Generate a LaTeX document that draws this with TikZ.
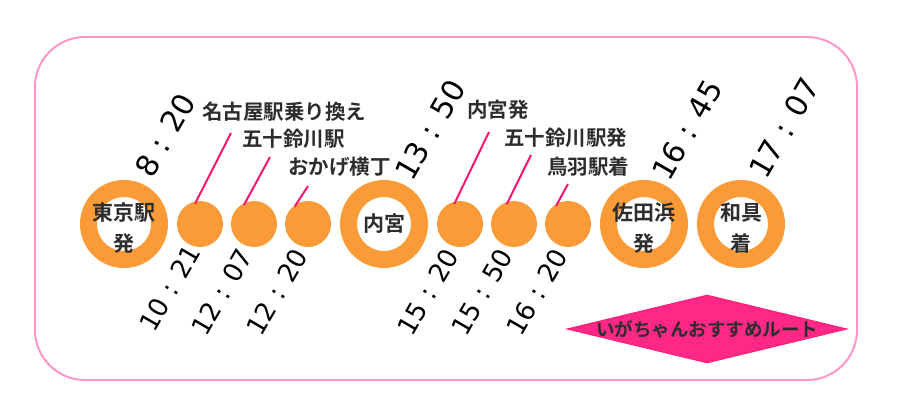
\documentclass[tikz,border=0pt]{standalone}
\usepackage{fontspec}
\usepackage{tikz}
\usetikzlibrary{shapes.geometric,positioning,calc}
\newfontfamily\jpfont{Noto Sans CJK JP}[BoldFont={Noto Sans CJK JP Bold}]
\newfontfamily\numfont{DejaVu Sans}
\definecolor{routeorange}{RGB}{250,155,55}
\definecolor{routepink}{RGB}{255,40,135}
\definecolor{tickpink}{RGB}{250,20,110}
\definecolor{framepink}{RGB}{255,150,200}
\definecolor{labelgray}{RGB}{45,45,45}
\tikzset{
    bigring/.style={circle, draw=routeorange, line width=17pt, minimum size=71pt, inner sep=0pt},
    stopdot/.style={circle, fill=routeorange, minimum size=46pt, inner sep=0pt},
    stn/.style={font=\jpfont\bfseries\fontsize{21}{31}\selectfont, text=labelgray, align=center, inner sep=0pt},
    place/.style={font=\jpfont\bfseries\fontsize{20.5}{24}\selectfont, text=labelgray, anchor=west, inner sep=0pt},
    tupper/.style={font=\numfont\fontsize{30}{30}\selectfont, rotate=60, inner sep=0pt},
    tlower/.style={font=\numfont\fontsize{26}{26}\selectfont, rotate=60, inner sep=0pt},
    tick/.style={tickpink, line width=2pt, shorten <=-3pt},
    routebox/.style={diamond, fill=routepink, draw=routepink!85!red, line width=1pt, minimum width=280pt, minimum height=68pt, inner sep=0pt},
    routetext/.style={font=\jpfont\bfseries\fontsize{18.5}{20}\selectfont, text=labelgray, inner sep=0pt},
    framebox/.style={draw=framepink, line width=2pt, rounded corners=50pt},
}
\begin{document}
\begin{tikzpicture}[x=1pt, y=-1pt]
    \useasboundingbox (0,0) rectangle (913,404);
    \draw[framebox] (35,37) rectangle (857,380);

    % Tokyo to Naiku
    \node[bigring] (r1) at (124,224) {};
    \node[stn] (s1) at ([yshift=-4pt]r1) {東京駅\\発};
    \node[stopdot] (d1) at (200,224) {};
    \node[stopdot] (d2) at (254,224) {};
    \node[stopdot] (d3) at (308,224) {};
    \node[bigring] (r2) at (384,224) {};
    \node[stn] (s2) at (r2) {内宮};

    \node[place] (p1) at (202,112) {名古屋駅乗り換え};
    \node[place] (p2) at (242,139) {五十鈴川駅};
    \node[place] (p3) at (288,167) {おかげ横丁};
    \coordinate (t1) at (231,133);
    \coordinate (t2) at (270,157);
    \coordinate (t3) at (308,186);
    \draw[tick] (d1.99) -- (t1);
    \draw[tick] (d2.112) -- (t2);
    \draw[tick] (d3.120) -- (t3);

    \node[tupper] (u1) at (165,135) {8 : 20};
    \node[tlower] (w1) at (170,288) {10 : 21};
    \node[tlower] (w2) at (222,292) {12 : 07};
    \node[tlower] (w3) at (277,292) {12 : 20};

    % Naiku to Wagu
    \node[stopdot] (d4) at (460,224) {};
    \node[stopdot] (d5) at (514,224) {};
    \node[stopdot] (d6) at (568,224) {};
    \node[bigring] (r3) at (644,224) {};
    \node[stn] (s3) at ([yshift=-4pt]r3) {佐田浜\\発};
    \node[bigring] (r4) at (741,224) {};
    \node[stn] (s4) at ([yshift=-4pt]r4) {和具\\着};

    \node[place] (p4) at (467,110) {内宮発};
    \node[place] (p5) at (504,138) {五十鈴川駅発};
    \node[place] (p6) at (547,167) {鳥羽駅着};
    \coordinate (t4) at (489,132);
    \coordinate (t5) at (531,155);
    \coordinate (t6) at (568,184);
    \draw[tick] (d4.101) -- (t4);
    \draw[tick] (d5.105) -- (t5);
    \draw[tick] (d6.117) -- (t6);

    \node[tupper] (u2) at (430,130) {13 : 50};
    \node[tupper] (u3) at (687,130) {16 : 45};
    \node[tupper] (u4) at (784,128) {17 : 07};
    \node[tlower] (w4) at (428,292) {15 : 20};
    \node[tlower] (w5) at (482,292) {15 : 50};
    \node[tlower] (w6) at (537,292) {16 : 20};

    % Label
    \node[routebox] (route) at (707,329) {};
    \node[routetext] (routelbl) at (route) {いがちゃんおすすめルート};
\end{tikzpicture}
\end{document}
